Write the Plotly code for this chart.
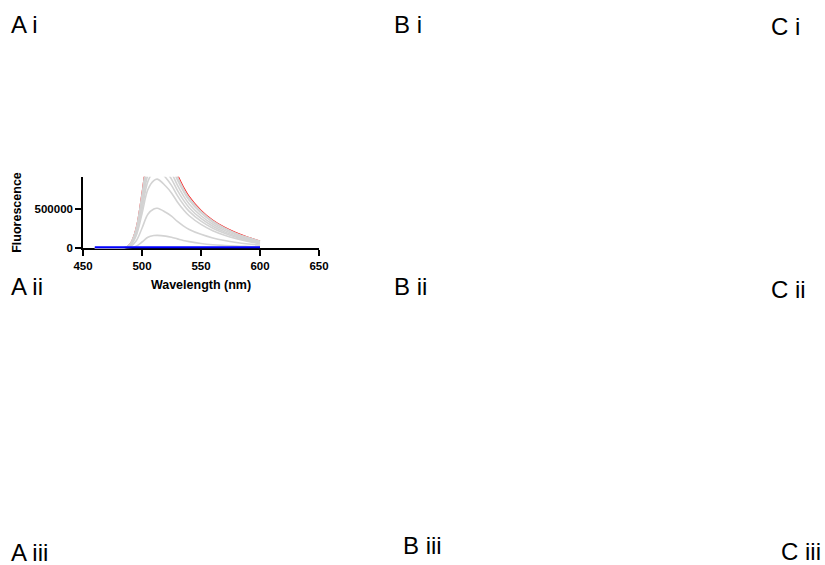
import plotly.graph_objects as go

# Wavelength sampling (nm)
wavelength = [460, 470, 480, 485, 490, 495, 500, 505, 510, 513, 520, 525, 530,
              535, 540, 550, 560, 570, 580, 590, 600]

# Titration spectra (grey)
grey_1 = [0, 0, 300, 800, 6000, 28000, 80000, 140000, 162000, 165000, 155000,
          140000, 120000, 100000, 85000, 62000, 46000, 36000, 28000, 23000, 19000]
grey_2 = [0, 0, 1000, 2500, 20000, 92000, 255000, 434000, 500000, 510000, 459000,
          408000, 342000, 286000, 240000, 178000, 132000, 99000, 74000, 55000, 40000]
grey_3 = [0, 0, 1800, 4400, 35000, 158000, 440000, 748000, 862000, 880000, 792000,
          704000, 590000, 493000, 414000, 304000, 224000, 167000, 123000, 88000, 58000]
grey_4 = [0, 0, 2000, 5000, 40000, 180000, 500000, 850000, 980000, 1000000, 900000,
          800000, 670000, 560000, 470000, 345000, 255000, 190000, 140000, 100000, 66000]
grey_5 = [0, 0, 2200, 5500, 44000, 198000, 550000, 935000, 1078000, 1100000, 990000,
          880000, 737000, 616000, 517000, 380000, 281000, 209000, 154000, 110000, 73000]
grey_6 = [0, 0, 2400, 6000, 48000, 216000, 600000, 1020000, 1176000, 1200000, 1080000,
          960000, 804000, 672000, 564000, 414000, 306000, 228000, 168000, 120000, 79000]
grey_7 = [0, 0, 2600, 6500, 52000, 234000, 650000, 1105000, 1274000, 1300000, 1170000,
          1040000, 871000, 728000, 611000, 449000, 332000, 247000, 182000, 130000, 86000]
grey_8 = [0, 0, 2700, 6800, 54000, 245000, 680000, 1156000, 1333000, 1360000, 1224000,
          1088000, 911000, 762000, 639000, 469000, 347000, 258000, 190000, 136000, 90000]
grey_series = [grey_1, grey_2, grey_3, grey_4, grey_5, grey_6, grey_7, grey_8]

red_series = [0, 0, 2800, 7000, 56000, 252000, 700000, 1190000, 1372000, 1400000, 1260000,
              1120000, 938000, 784000, 658000, 483000, 357000, 266000, 196000, 140000, 92000]
blue_series = [0] * len(wavelength)

x_ticks = [450, 500, 550, 600, 650]
y_ticks = [0, 500000]
y_ticktext = ["0", "500000"]

panel_labels = ["A i", "B i", "C i", "A ii", "B ii", "C ii", "A iii", "B iii", "C iii"]
panel_pos = [(11, 25), (394, 24), (771, 27), (11, 286), (394, 286), (771, 289),
             (11, 552), (403, 545), (781, 551)]

W, H = 825, 565
fig = go.Figure()

fig.add_trace(go.Scatter(x=wavelength, y=red_series, mode="lines",
                         line=dict(color="#ff0000", width=1.2, shape="spline"),
                         showlegend=False))
for s in grey_series:
    fig.add_trace(go.Scatter(x=wavelength, y=s, mode="lines",
                             line=dict(color="#d3d3d3", width=1.6, shape="spline"),
                             showlegend=False))
fig.add_trace(go.Scatter(x=wavelength, y=blue_series, mode="lines",
                         line=dict(color="#0000ff", width=4),
                         showlegend=False))

x0, x1 = 83, 319
yb, yt = 248.3, 176.7
font_axis = dict(family="Liberation Sans, Arial, sans-serif", size=11.5, color="black", weight="bold")
font_title = dict(family="Liberation Sans, Arial, sans-serif", size=12.5, color="black", weight="bold")

fig.update_layout(
    width=W, height=H,
    margin=dict(l=0, r=0, t=0, b=0, autoexpand=False),
    paper_bgcolor="white", plot_bgcolor="white",
    xaxis=dict(domain=[x0 / W, x1 / W], range=[450, 650], tickvals=x_ticks,
               showline=True, linecolor="black", linewidth=1.5, layer="below traces",
               ticks="outside", ticklen=6, tickwidth=1.5, tickcolor="black",
               showgrid=False, zeroline=False, tickfont=font_axis, automargin=False,
               title=dict(text="Wavelength (nm)", font=font_title, standoff=9)),
    yaxis=dict(domain=[(H - yb) / H, (H - yt) / H], range=[0, 911000],
               tickvals=y_ticks, ticktext=y_ticktext,
               showline=True, linecolor="black", linewidth=1.5, layer="below traces",
               ticks="outside", ticklen=6, tickwidth=1.5, tickcolor="black",
               showgrid=False, zeroline=False, tickfont=font_axis, automargin=False,
               title=dict(text="Fluorescence", font=font_title, standoff=10)),
)

for lab, (px, py) in zip(panel_labels, panel_pos):
    fig.add_annotation(text=lab, x=(px - 2) / W, y=1 - py / H,
                       xref="paper", yref="paper",
                       xanchor="left", yanchor="middle", showarrow=False,
                       font=dict(family="Liberation Sans, Arial, sans-serif", size=24, color="black"))

# remove the default page margin so the figure fills the window exactly
fig.write_html("out.html", config={"displayModeBar": False},
               post_script="document.body.style.margin='0';document.body.style.overflow='hidden';")
